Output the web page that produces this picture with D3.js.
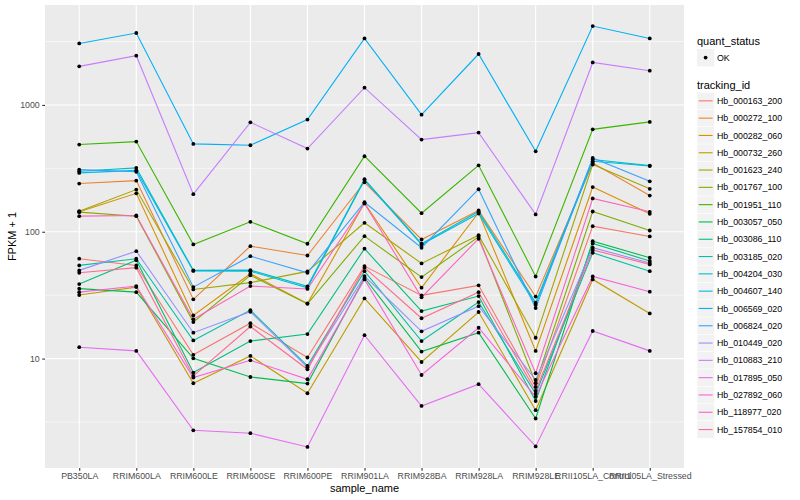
<!DOCTYPE html>
<html>
<head>
<meta charset="utf-8">
<script src="https://cdn.jsdelivr.net/npm/d3@7"></script>
<style>
body { margin:0; background:#fff; }
text { font-family: "Liberation Sans", Arial, sans-serif; }
</style>
</head>
<body>
<div id="chart"></div>
<script>
// x 범주
var samples = ["PB350LA", "RRIM600LA", "RRIM600LE", "RRIM600SE", "RRIM600PE", "RRIM901LA",
    "RRIM928BA", "RRIM928LA", "RRIM928LE", "RRII105LA_Control", "RRII105LA_Stressed"];

var trackingIds = ["Hb_000163_200", "Hb_000272_100", "Hb_000282_060", "Hb_000732_260", "Hb_001623_240",
    "Hb_001767_100", "Hb_001951_110", "Hb_003057_050", "Hb_003086_110", "Hb_003185_020",
    "Hb_004204_030", "Hb_004607_140", "Hb_006569_020", "Hb_006824_020", "Hb_010449_020",
    "Hb_010883_210", "Hb_017895_050", "Hb_027892_060", "Hb_118977_020", "Hb_157854_010"];

var colors = ["#F8766D", "#EA8331", "#D89000", "#C09B00", "#A3A500", "#7CAE00", "#39B600", "#00BB4E",
    "#00BF7D", "#00C1A3", "#00BFC4", "#00BAE0", "#00B0F6", "#35A2FF", "#9590FF", "#C77CFF",
    "#E76BF3", "#FA62DB", "#FF62BC", "#FF6C91"];

// FPKM + 1 값 (샘플 순서대로)
var hb_000163_200 = [61.3, 54.3, 10.7, 19.0, 10.2, 53.6, 31.5, 37.8, 5.97, 110.7, 91.8];
var hb_000272_100 = [240, 253, 29.3, 77.0, 65.0, 245.6, 86.9, 147.1, 30.8, 349, 193];
var hb_000282_060 = [143.9, 201, 21.9, 46.7, 27.2, 168.5, 36.2, 141.8, 11.5, 225, 138.5];
var hb_000732_260 = [31.7, 36.6, 6.39, 10.5, 5.33, 29.8, 9.40, 23.3, 3.92, 42.1, 22.7];
var hb_001623_240 = [145.3, 215, 35.1, 39.7, 48.7, 117.7, 56.3, 94.0, 14.6, 338.8, 218];
var hb_001767_100 = [142.7, 132.7, 19.4, 45.3, 27.0, 92.3, 43.9, 91.3, 6.39, 144.4, 102.3];
var hb_001951_110 = [487, 514, 79.4, 119.8, 80.4, 394, 140, 334, 44.4, 642, 735];
var hb_003057_050 = [35.6, 33.4, 10.05, 7.16, 6.35, 43.4, 11.35, 16.0, 3.37, 84.3, 62.4];
var hb_003086_110 = [38.7, 59.7, 7.76, 13.75, 15.6, 73.5, 23.7, 31.1, 4.63, 80.8, 58.9];
var hb_003185_020 = [54.3, 61.3, 13.9, 24.1, 8.77, 48.9, 13.75, 27.9, 5.28, 68.3, 48.9];
var hb_004204_030 = [300, 319, 49.6, 49.8, 37.1, 260, 80.4, 144.4, 27.6, 371, 332.5];
var hb_004607_140 = [291, 305, 49.1, 48.9, 36.1, 255.6, 79.4, 139.3, 26.5, 359.5, 329.6];
var hb_006569_020 = [3055, 3690, 493, 481, 766, 3342, 838, 2520, 431, 4188, 3342];
var hb_006824_020 = [309, 297, 36.6, 64.2, 47.5, 171, 74.8, 216.4, 25.0, 382, 250];
var hb_010449_020 = [49.6, 70.3, 16.0, 23.4, 8.54, 44.7, 16.4, 25.9, 6.78, 74.8, 56.8];
var hb_010883_210 = [2014, 2445, 198, 729, 453, 1368, 533, 605, 137, 2163, 1862];
var hb_017895_050 = [12.3, 11.5, 2.72, 2.58, 2.01, 15.3, 4.23, 6.28, 2.03, 16.5, 11.5];
var hb_027892_060 = [33.4, 37.3, 7.08, 9.69, 6.87, 42.1, 7.42, 17.5, 5.00, 44.4, 33.7];
var hb_118977_020 = [132.7, 134.4, 20.4, 37.3, 35.4, 167, 30.4, 88.1, 7.66, 183, 143.6];
var hb_157854_010 = [47.5, 52.1, 7.29, 17.9, 8.23, 52.1, 20.8, 33.4, 5.56, 71.9, 55.3];

var seriesValues = [hb_000163_200, hb_000272_100, hb_000282_060, hb_000732_260, hb_001623_240,
    hb_001767_100, hb_001951_110, hb_003057_050, hb_003086_110, hb_003185_020,
    hb_004204_030, hb_004607_140, hb_006569_020, hb_006824_020, hb_010449_020,
    hb_010883_210, hb_017895_050, hb_027892_060, hb_118977_020, hb_157854_010];

var yTicks = [10, 100, 1000];
var yMinor = [Math.pow(10, 0.5), Math.pow(10, 1.5), Math.pow(10, 2.5), Math.pow(10, 3.5)];

var w = 800, h = 500;
var px0 = 45, px1 = 684, py0 = 5, py1 = 468; // 패널 영역

var svg = d3.select("#chart").append("svg")
    .attr("width", w)
    .attr("height", h);

svg.append("rect").attr("width", w).attr("height", h).attr("fill", "#fff");

var series = trackingIds.map(function(id, i) {
    return {id: id, color: colors[i], points: samples.map(function(s, j) {
        return {sample: s, value: seriesValues[i][j]};
    })};
});

var all = d3.merge(seriesValues);
var ext = d3.extent(all).map(Math.log10);
var pad = (ext[1] - ext[0]) * 0.05;

var x = d3.scalePoint().domain(samples).range([px0, px1]).padding(0.6);
var y = d3.scaleLog()
    .domain([Math.pow(10, ext[0] - pad), Math.pow(10, ext[1] + pad)])
    .range([py1, py0]);

// 패널 배경 + 그리드
svg.append("rect")
    .attr("x", px0).attr("y", py0)
    .attr("width", px1 - px0).attr("height", py1 - py0)
    .attr("fill", "#EBEBEB");

svg.selectAll(".minor").data(yMinor).enter().append("line")
    .attr("x1", px0).attr("x2", px1)
    .attr("y1", d => y(d)).attr("y2", d => y(d))
    .attr("stroke", "#fff").attr("stroke-width", 0.55);

svg.selectAll(".hmajor").data(yTicks).enter().append("line")
    .attr("x1", px0).attr("x2", px1)
    .attr("y1", d => y(d)).attr("y2", d => y(d))
    .attr("stroke", "#fff").attr("stroke-width", 1.1);

svg.selectAll(".vmajor").data(samples).enter().append("line")
    .attr("x1", d => x(d)).attr("x2", d => x(d))
    .attr("y1", py0).attr("y2", py1)
    .attr("stroke", "#fff").attr("stroke-width", 1.1);

// 선
var line = d3.line().x(d => x(d.sample)).y(d => y(d.value));

svg.selectAll(".series").data(series).enter().append("path")
    .attr("d", d => line(d.points))
    .attr("fill", "none")
    .attr("stroke", d => d.color)
    .attr("stroke-width", 1.1);

// 점
svg.selectAll(".pts").data(series).enter().append("g")
    .selectAll("circle").data(d => d.points).enter().append("circle")
    .attr("cx", d => x(d.sample))
    .attr("cy", d => y(d.value))
    .attr("r", 1.9)
    .attr("fill", "#000");

// 축
var yAxis = svg.append("g")
    .attr("transform", "translate(" + px0 + ",0)")
    .call(d3.axisLeft(y).tickValues(yTicks).tickFormat(d3.format("d")).tickSize(2.75).tickPadding(2.5));
var xAxis = svg.append("g")
    .attr("transform", "translate(0," + py1 + ")")
    .call(d3.axisBottom(x).tickSize(2.75).tickPadding(2.5));

[yAxis, xAxis].forEach(function(a) {
    a.select(".domain").remove();
    a.selectAll(".tick line").attr("stroke", "#333").attr("stroke-width", 1.1);
    a.selectAll(".tick text")
        .attr("fill", "#4D4D4D")
        .style("font-size", "8.8px")
        .style("font-family", "Liberation Sans, Arial, sans-serif");
});

svg.append("text")
    .attr("x", (px0 + px1) / 2).attr("y", 492)
    .attr("text-anchor", "middle")
    .style("font-size", "11px")
    .text("sample_name");

svg.append("text")
    .attr("transform", "translate(16," + ((py0 + py1) / 2) + ") rotate(-90)")
    .attr("text-anchor", "middle")
    .style("font-size", "11px")
    .text("FPKM + 1");

// 범례
var lx = 697;
svg.append("text").attr("x", lx).attr("y", 45).style("font-size", "11px").text("quant_status");
svg.append("rect").attr("x", lx).attr("y", 49).attr("width", 17.3).attr("height", 17.3).attr("fill", "#F2F2F2");
svg.append("circle").attr("cx", lx + 8.6).attr("cy", 57.6).attr("r", 1.9).attr("fill", "#000");
svg.append("text").attr("x", lx + 20).attr("y", 60.8).style("font-size", "8.8px").text("OK");

svg.append("text").attr("x", lx).attr("y", 88.5).style("font-size", "11px").text("tracking_id");

var key = svg.selectAll(".key").data(series).enter().append("g")
    .attr("transform", (d, i) => "translate(" + lx + "," + (92.2 + i * 17.3) + ")");
key.append("rect").attr("width", 17.3).attr("height", 17.3).attr("fill", "#F2F2F2")
    .attr("stroke", "#fff").attr("stroke-width", 0.5);
key.append("line").attr("x1", 1.7).attr("x2", 15.6).attr("y1", 8.65).attr("y2", 8.65)
    .attr("stroke", d => d.color).attr("stroke-width", 1.1);
key.append("text").attr("x", 20).attr("y", 11.8).style("font-size", "8.8px").text(d => d.id);
</script>
</body>
</html>
